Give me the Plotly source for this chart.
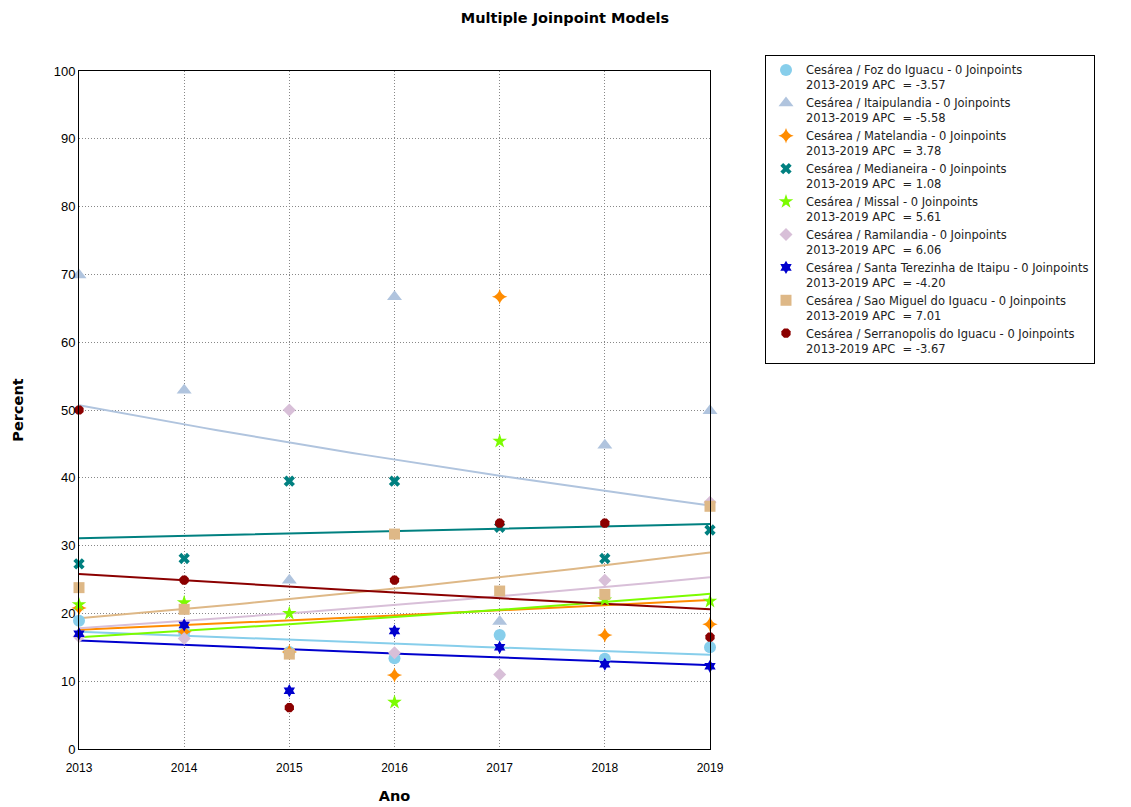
import numpy as np
import plotly.graph_objects as go

years = [2013, 2014, 2015, 2016, 2017, 2018, 2019]

names = ["Foz do Iguacu", "Itaipulandia", "Matelandia", "Medianeira", "Missal",
         "Ramilandia", "Santa Terezinha de Itaipu", "Sao Miguel do Iguacu",
         "Serranopolis do Iguacu"]

foz = [18.9, 17.2, 14.3, 13.4, 16.8, 13.3, 15.0]
itaipulandia = [69.9, 52.9, 24.9, 66.7, 18.8, 44.8, 49.9]
matelandia = [20.8, 17.3, 14.3, 10.9, 66.7, 16.8, 18.4]
medianeira = [27.3, 28.1, 39.5, 39.5, 32.7, 28.1, 32.3]
missal = [21.3, 21.6, 20.0, 6.9, 45.4, 22.0, 21.8]
ramilandia = [16.6, 16.3, 50.0, 14.2, 11.0, 24.9, 36.4]
santa = [17.0, 18.3, 8.6, 17.4, 15.0, 12.5, 12.2]
saomiguel = [23.8, 20.6, 14.0, 31.7, 23.3, 22.8, 35.8]
serranopolis = [50.0, 24.9, 6.1, 24.9, 33.3, 33.3, 16.5]

series = [foz, itaipulandia, matelandia, medianeira, missal, ramilandia,
          santa, saomiguel, serranopolis]

# fitted model: value in 2013 and annual percent change
fit_start = [17.3, 50.7, 17.6, 31.1, 16.5, 17.8, 16.0, 19.3, 25.8]
apc = [-3.57, -5.58, 3.78, 1.08, 5.61, 6.06, -4.20, 7.01, -3.67]

colors = ["#87CEEB", "#B0C4DE", "#FF8C00", "#008080", "#7CFC00",
          "#D8BFD8", "#0000CD", "#DEB887", "#8B0000"]
symbols = ["circle", "triangle-up", "star-diamond", "x", "star",
           "diamond", "hexagram", "square", "octagon"]
sizes = [12, 13, 11, 10, 11, 10, 10, 11, 10]

fig = go.Figure()
xs = np.linspace(2013, 2019, 61)
for i, n in enumerate(names):
    ys = fit_start[i] * (1 + apc[i] / 100.0) ** (xs - 2013)
    fig.add_trace(go.Scatter(
        x=xs, y=ys, mode="lines", showlegend=False,
        name="2013-2019 APC  = %.2f" % apc[i],
        line=dict(color=colors[i], width=2)))
for i, n in enumerate(names):
    fig.add_trace(go.Scatter(
        x=years, y=series[i], mode="markers", cliponaxis=False,
        name="Cesárea / %s - 0 Joinpoints<br>2013-2019 APC  = %.2f" % (n, apc[i]),
        marker=dict(symbol=symbols[i], color=colors[i], size=sizes[i],
                    line=dict(width=0))))

title_font = dict(family="DejaVu Sans, Verdana", size=14.5, color="#000")

fig.update_layout(
    width=1131, height=807,
    paper_bgcolor="white", plot_bgcolor="white",
    margin=dict(l=71, r=429, t=63, b=66),
    font=dict(family="Liberation Sans, Arial, sans-serif", size=12, color="#000"),
    title=dict(text="<b>Multiple Joinpoint Models</b>", x=557 / 1131, xanchor="center",
               y=1 - 10 / 807, yanchor="middle", font=title_font),
    showlegend=True,
    legend=dict(x=(757 - 71) / 631, y=(741 - 47) / 678, xanchor="left", yanchor="top",
                bordercolor="#000", borderwidth=1, bgcolor="white", valign="top",
                font=dict(family="DejaVu Sans", size=11.5, color="#222"),
                tracegroupgap=0, itemwidth=30),
)
fig.update_xaxes(range=[2013, 2019], tickvals=years, ticktext=[str(y) for y in years],
                 showgrid=True, gridcolor="#888", griddash="1px,2px", gridwidth=1,
                 showline=True, linecolor="#000", linewidth=1, mirror=True,
                 zeroline=False, ticks="", ticklen=0, automargin=False,
                 ticklabelstandoff=8,
                 tickfont=dict(family="Liberation Sans Narrow, Liberation Sans", size=12),
                 title=dict(text="<b>Ano</b>", standoff=16, font=title_font))
fig.update_yaxes(range=[0, 100], dtick=10,
                 showgrid=True, gridcolor="#888", griddash="1px,2px", gridwidth=1,
                 showline=True, linecolor="#000", linewidth=1, mirror=True,
                 zeroline=False, ticks="", automargin=False,
                 tickfont=dict(family="Liberation Sans Narrow, Liberation Sans", size=13),
                 title=dict(text="<b>Percent</b>", standoff=26, font=title_font))

fig.write_html("out.html")
